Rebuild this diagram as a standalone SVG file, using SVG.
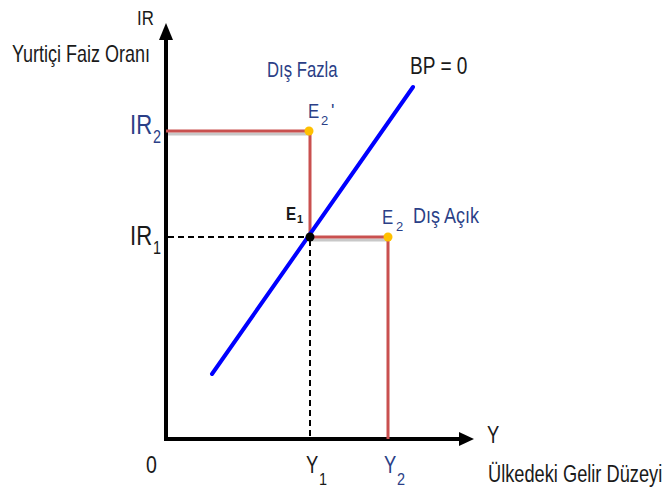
<svg xmlns="http://www.w3.org/2000/svg" width="666" height="494" viewBox="0 0 666 494">
<style>
text { font-family: "Liberation Sans", Arial, sans-serif; }
.blk { fill: #1a1a1a; }
.blu { fill: #2b3f87; }
.axis { stroke: #000; stroke-width: 4; fill: none; }
.red { stroke: #c9504f; stroke-width: 3; fill: none; }
.shadow { stroke: #c8c8c8; stroke-width: 3; fill: none; }
.dash { stroke: #000; stroke-width: 2; stroke-dasharray: 6 4; fill: none; }
.bp { stroke: #0000ff; stroke-width: 4; fill: none; stroke-linecap: round; }
</style>
<rect width="666" height="494" fill="#fff"/>
<g id="axes">
  <line class="axis" x1="166" y1="439" x2="166" y2="38"/>
  <polygon points="166,23 159,40 173,40" fill="#000"/>
  <line class="axis" x1="164" y1="439" x2="460" y2="439"/>
  <polygon points="474,439 459,432 459,446" fill="#000"/>
</g>
<g id="connectors">
  <polyline class="shadow" points="168,134 310,134"/>
  <polyline class="shadow" points="312,240 388,240"/>
  <polyline class="red" points="166,131 310,131 310,237 388,237 388,439"/>
  <line class="dash" x1="168" y1="237" x2="308" y2="237"/>
  <line class="dash" x1="310" y1="240" x2="310" y2="437"/>
  <line class="bp" x1="212" y1="374" x2="413" y2="87"/>
</g>
<g id="node-E2prime">
  <circle cx="309" cy="131" r="4.5" fill="#ffc000"/>
  <text class="blu" transform="translate(308,118) scale(0.8,1)" font-size="21">E</text>
  <text class="blu" x="321" y="125" font-size="13">2</text>
  <text class="blu" x="331" y="117" font-size="18">'</text>
</g>
<g id="node-E1">
  <circle cx="310" cy="237" r="4.5" fill="#000"/>
  <text class="blk" transform="translate(286,220) scale(0.8,1)" font-size="19" font-weight="bold">E</text>
  <text class="blk" x="297" y="223" font-size="11" font-weight="bold">1</text>
</g>
<g id="node-E2">
  <circle cx="388" cy="237" r="4.5" fill="#ffc000"/>
  <text class="blu" transform="translate(382,224) scale(0.8,1)" font-size="21">E</text>
  <text class="blu" x="396" y="231" font-size="13">2</text>
</g>
<g id="labels">
  <text class="blk" transform="translate(137,25) scale(0.8,1)" font-size="21">IR</text>
  <text class="blk" transform="translate(12,62) scale(0.75,1)" font-size="24">Yurtiçi Faiz Oranı</text>
  <text class="blu" transform="translate(130,134) scale(0.79,1)" font-size="28">IR</text>
  <text class="blu" transform="translate(153,143) scale(0.8,1)" font-size="18">2</text>
  <text class="blk" transform="translate(130,245) scale(0.79,1)" font-size="28">IR</text>
  <text class="blk" transform="translate(153,254) scale(0.8,1)" font-size="18">1</text>
  <text class="blu" transform="translate(267,77) scale(0.76,1)" font-size="22">Dış Fazla</text>
  <text class="blk" transform="translate(410,74) scale(0.83,1)" font-size="23">BP = 0</text>
  <text class="blu" transform="translate(413,223) scale(0.82,1)" font-size="22">Dış Açık</text>
  <text class="blk" transform="translate(146,473) scale(0.85,1)" font-size="23">0</text>
  <text class="blk" transform="translate(306,473) scale(0.8,1)" font-size="23">Y</text>
  <text class="blk" transform="translate(319,485) scale(0.85,1)" font-size="17">1</text>
  <text class="blu" transform="translate(384,473) scale(0.8,1)" font-size="23">Y</text>
  <text class="blu" transform="translate(397,485) scale(0.85,1)" font-size="17">2</text>
  <text class="blk" transform="translate(487,443) scale(0.8,1)" font-size="23">Y</text>
  <text class="blk" transform="translate(488,482) scale(0.76,1)" font-size="24">Ülkedeki Gelir Düzeyi</text>
</g>
</svg>
